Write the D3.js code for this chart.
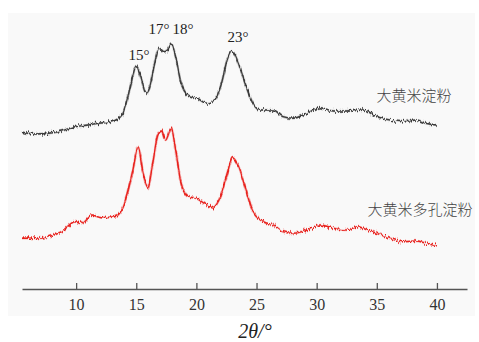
<!DOCTYPE html>
<html>
<head>
<meta charset="utf-8">
<script src="https://cdn.jsdelivr.net/npm/d3@7"></script>
<style>
  html, body { margin: 0; padding: 0; background: #ffffff; }
  svg { display: block; }
  .serif { font-family: "Liberation Serif", "Times New Roman", "DejaVu Serif", serif; }
</style>
</head>
<body>
<svg id="chart" width="479" height="342"></svg>
<script>
// Diffraction angle (2θ, degrees) and relative intensity (a.u.) for the two samples
const angleNative = [5.5, 6.6, 7.7, 8.8, 9.9, 11.0, 11.85, 12.96, 13.8, 14.2, 14.6, 15.0, 15.4, 15.8, 16.1, 16.5, 16.9, 17.3, 17.6, 17.9, 18.3, 18.7, 19.3, 20.1, 20.8, 21.5, 22.05, 22.6, 22.95, 23.45, 24.0, 24.7, 25.3, 26.4, 27.2, 28.05, 29.2, 30.3, 31.4, 32.5, 33.9, 35.0, 36.1, 37.2, 38.3, 39.1, 40.0];
const intensityNative = [156.7, 155, 155.7, 158, 162.3, 164, 165.7, 167.3, 174, 187.3, 207.3, 223.3, 211, 195.7, 200.7, 224, 240.7, 237.3, 239, 245.7, 230.7, 207.3, 194, 190.7, 185.7, 189, 204, 230.7, 238, 227.3, 207.3, 185.7, 179, 179, 172.3, 170.7, 175.7, 181.3, 178, 178, 179, 172.3, 169, 167.3, 169, 165.7, 164];

const anglePorous = [5.5, 6.6, 7.7, 8.8, 9.9, 10.4, 11.3, 12.1, 13.2, 13.8, 14.3, 14.75, 15.15, 15.55, 15.95, 16.35, 16.8, 17.1, 17.45, 17.9, 18.3, 18.7, 19.3, 20.0, 20.65, 21.35, 22.05, 22.6, 23.0, 23.45, 24.0, 24.7, 25.55, 26.4, 27.2, 28.05, 29.2, 30.3, 31.4, 32.5, 33.4, 34.2, 35.0, 36.1, 37.2, 38.3, 39.1, 40.0];
const intensityPorous = [50.7, 50.7, 52.3, 57.3, 67.3, 65.7, 74, 71.3, 72.3, 79, 97.3, 120.7, 142.3, 117.3, 100.7, 124, 154, 158, 149, 160.7, 137.3, 107.3, 92.3, 90.7, 85.7, 81.3, 94, 117.3, 131.3, 124, 104, 77.3, 67.3, 64, 57.3, 55.7, 59, 64, 60.7, 59, 62.3, 59, 55.7, 50.7, 47.3, 48, 45.7, 43.3];

const xTicks = [10, 15, 20, 25, 30, 35, 40];
const seriesNames = ["大黄米淀粉", "大黄米多孔淀粉"];
const peakLabels = ["15°", "17°", "18°", "23°"];

const svg = d3.select("#chart");

// panel background
svg.append("rect")
  .attr("x", 8).attr("y", 13).attr("width", 467).attr("height", 303)
  .attr("fill", "#f9f9f9");

const x = d3.scaleLinear().domain([5.5, 42.5]).range([22, 467]);
const y = d3.scaleLinear().domain([0, 280]).range([289, 9]);

// counting-noise texture for the scan traces: vertical jitter only
const defs = svg.append("defs");
const f = defs.append("filter").attr("id", "grain")
  .attr("x", "-5%").attr("y", "-25%").attr("width", "110%").attr("height", "150%");
f.append("feTurbulence").attr("type", "fractalNoise").attr("baseFrequency", "1.4 0.12")
  .attr("numOctaves", 2).attr("seed", 7).attr("result", "n");
f.append("feColorMatrix").attr("in", "n").attr("type", "matrix")
  .attr("values", "0 0 0 0 0.5  0 1 0 0 0  0 0 0 0 0  0 0 0 0 1")
  .attr("result", "ny");
f.append("feDisplacementMap").attr("in", "SourceGraphic").attr("in2", "ny")
  .attr("scale", 6.5).attr("xChannelSelector", "R").attr("yChannelSelector", "G");

const line = d3.line()
  .x(d => x(d[0])).y(d => y(d[1]))
  .curve(d3.curveMonotoneX);

const traces = [
  { a: angleNative, v: intensityNative, color: "#3a3a3a" },
  { a: anglePorous, v: intensityPorous, color: "#e8211d" }
];

traces.forEach(t => {
  const pts = t.a.map((a, i) => [a, t.v[i]]);
  svg.append("path").datum(pts)
    .attr("d", line)
    .attr("fill", "none")
    .attr("stroke", t.color)
    .attr("stroke-opacity", 0.3)
    .attr("stroke-width", 2.6)
    .attr("filter", "url(#grain)");
  svg.append("path").datum(pts)
    .attr("d", line)
    .attr("fill", "none")
    .attr("stroke", t.color)
    .attr("stroke-width", 1.4)
    .attr("filter", "url(#grain)");
});

// bottom axis with inward ticks
const axis = d3.axisBottom(x)
  .tickValues(xTicks)
  .tickSizeInner(-6)
  .tickSizeOuter(0)
  .tickPadding(10)
  .tickFormat(d3.format("d"));

const gx = svg.append("g")
  .attr("transform", "translate(0,289)")
  .call(axis)
  .attr("font-family", null)
  .attr("font-size", null);
gx.select(".domain").attr("stroke", "#555").attr("stroke-width", 1.5);
gx.selectAll(".tick line").attr("stroke", "#555").attr("stroke-width", 1.3);
gx.selectAll(".tick text")
  .attr("class", "serif")
  .attr("fill", "#333")
  .attr("font-size", 16);

// axis title
const title = svg.append("text")
  .attr("class", "serif")
  .attr("x", 255).attr("y", 338)
  .attr("text-anchor", "middle")
  .attr("font-size", 20)
  .attr("font-style", "italic")
  .attr("fill", "#222");
title.text("2θ/°");

// peak annotations above the native starch trace
const peakPos = [
  { t: peakLabels[0], px: 139, py: 60 },
  { t: peakLabels[1], px: 159, py: 34 },
  { t: peakLabels[2], px: 183, py: 34 },
  { t: peakLabels[3], px: 238, py: 42 }
];
svg.selectAll("text.peak").data(peakPos).enter().append("text")
  .attr("class", "serif peak")
  .attr("x", d => d.px).attr("y", d => d.py)
  .attr("text-anchor", "middle")
  .attr("font-size", 15)
  .attr("fill", "#222")
  .text(d => d.t);

// series labels
svg.append("text")
  .attr("x", 414).attr("y", 101)
  .attr("text-anchor", "middle")
  .style("font-family", "'Noto Sans CJK SC', sans-serif")
  .style("font-size", "15px")
  .style("font-weight", 300)
  .attr("fill", "#444")
  .text(seriesNames[0]);
svg.append("text")
  .attr("x", 420).attr("y", 215)
  .attr("text-anchor", "middle")
  .style("font-family", "'Noto Sans CJK SC', sans-serif")
  .style("font-size", "15px")
  .style("font-weight", 300)
  .attr("fill", "#444")
  .text(seriesNames[1]);
</script>
</body>
</html>
